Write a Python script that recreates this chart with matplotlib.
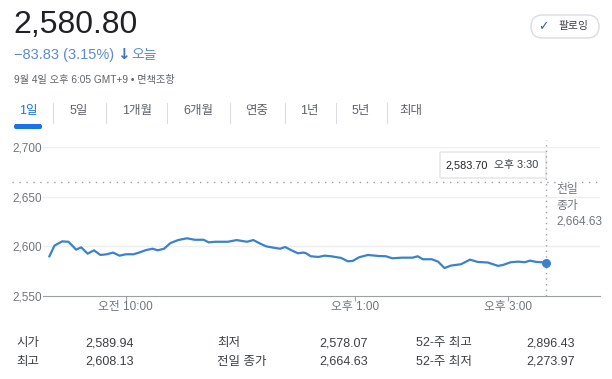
import matplotlib
matplotlib.use("Agg")
import matplotlib.pyplot as plt
from matplotlib.patches import FancyBboxPatch

plt.rcParams["font.family"] = ["Liberation Sans", "Noto Sans CJK KR", "DejaVu Sans"]
plt.rcParams["axes.unicode_minus"] = True

# ---- data ----
price = 2580.80
change = -83.83
change_pct = 3.15
prev_close = 2664.63
times = [0, 4, 10, 15, 21, 25, 30, 35, 40, 45, 50, 55, 60, 66, 71, 76, 81, 85, 90, 95,
         101, 108, 114, 121, 125, 130, 140, 147, 155, 160, 165, 170, 176, 181, 185, 190,
         195, 199, 201, 205, 211, 216, 221, 229, 234, 238, 243, 250, 258, 264, 269, 277,
         285, 289, 293, 300, 305, 310, 315, 323, 330, 336, 344, 352, 356, 362, 368, 373,
         377, 382, 390]  # minutes since 09:00
prices = [2589.94, 2600.7, 2605.0, 2604.6, 2596.7, 2599.0, 2592.6, 2596.0, 2591.3, 2592.0,
          2593.7, 2590.6, 2592.0, 2592.0, 2594.0, 2596.3, 2597.6, 2596.0, 2597.6, 2603.3,
          2606.3, 2608.1, 2606.6, 2606.6, 2604.0, 2604.6, 2604.6, 2606.3, 2604.6, 2606.3,
          2603.0, 2600.0, 2598.6, 2597.6, 2599.3, 2596.0, 2593.0, 2593.7, 2593.3, 2590.0,
          2589.3, 2590.6, 2590.0, 2588.3, 2585.0, 2585.3, 2589.0, 2591.3, 2590.3, 2590.0,
          2588.0, 2588.6, 2588.6, 2590.0, 2587.0, 2587.0, 2584.6, 2578.1, 2580.6, 2582.0,
          2586.6, 2584.3, 2583.7, 2580.3, 2581.3, 2584.0, 2584.6, 2584.0, 2585.6, 2584.3,
          2583.70]
xtick_pos = [60, 240, 360]
xtick_labels = ["오전 10:00", "오후 1:00", "오후 3:00"]
ytick_pos = [2550, 2600, 2650, 2700]
tabs = ["1일", "5일", "1개월", "6개월", "연중", "1년", "5년", "최대"]
stat_labels = [["시가", "최고"], ["최저", "전일 종가"], ["52-주 최고", "52-주 최저"]]
stat_values = [["2,589.94", "2,608.13"], ["2,578.07", "2,664.63"], ["2,896.43", "2,273.97"]]

LINE = "#3b82cc"
GREY = "#70757a"

fig = plt.figure(figsize=(6.12, 3.79), dpi=100)

# overlay in pixel coordinates (y from top)
bg = fig.add_axes([0, 0, 1, 1])
bg.set_xlim(0, 612); bg.set_ylim(379, 0); bg.axis("off")

bg.text(13, 33, f"{price:,.2f}", fontsize=23, color="#202124", va="baseline")
bg.text(14, 59, f"−{abs(change):,.2f} ({change_pct:.2f}%)", fontsize=10.5,
        color="#5b8ad0", va="baseline")
bg.text(117, 59, "↓", fontsize=11, color="#3a74c8", va="baseline", fontweight="bold",
        family="DejaVu Sans")
bg.text(131, 59, "오늘", fontsize=10, color="#5b8ad0", va="baseline")
bg.text(14, 83, "9월 4일 오후 6:05 GMT+9 • 면책조항", fontsize=7.3, color="#5f6368",
        va="baseline")

# follow button
bg.add_patch(FancyBboxPatch((531, 15), 68, 23, boxstyle="round,pad=0,rounding_size=11.5",
                            fc="white", ec="#dadce0", lw=1))
bg.text(543, 26.5, "✓", fontsize=9, color="#3d5f8f", ha="center", va="center",
        family="DejaVu Sans")
bg.text(558, 26.5, "팔로잉", fontsize=7.8, color="#3c4043", va="center")

# tabs
tab_x = [28, 79, 137, 198, 257, 309, 361, 411]
seps = [53, 106, 167, 230, 285, 336, 387]
for t, x in zip(tabs, tab_x):
    bg.text(x, 111, t, fontsize=9, color="#1a73e8" if t == "1일" else "#5f6368",
            ha="center", va="center")
for s in seps:
    bg.plot([s, s], [103, 123], color="#dadce0", lw=0.8)
bg.add_patch(FancyBboxPatch((14, 124), 28, 5, boxstyle="round,pad=0,rounding_size=2",
                            fc="#1a73e8", ec="none"))

# stats table
col_l = [16, 217, 416]
col_v = [85, 319, 526]
for c in range(3):
    for r, y in enumerate([343, 362]):
        bg.text(col_l[c], y, stat_labels[c][r], fontsize=9, color="#3c4043", va="center")
        bg.text(col_v[c], y, stat_values[c][r], fontsize=9, color="#3c4043", va="center")

# ---- chart ----
ax = fig.add_axes([43 / 612, 1 - 296 / 379, 557 / 612, 149 / 379])
ax.set_zorder(2); ax.patch.set_alpha(0)
ax.set_xlim(-5, 432)
ax.set_ylim(2550, 2700)
for y in ytick_pos[1:]:
    ax.axhline(y, color="#eeeeee", lw=1, zorder=0)
ax.axhline(prev_close, xmin=-0.056, xmax=1, color="#9aa0a6", lw=1,
           ls=(0, (1, 4)), clip_on=False)
ax.axvline(times[-1], ymin=0, ymax=1.05, color="#9aa0a6", lw=1,
           ls=(0, (1, 3)), clip_on=False)
ax.plot(times, prices, color=LINE, lw=1.6, zorder=3)
ax.scatter([times[-1]], [prices[-1]], s=30, color=LINE, zorder=4)

for sp in ["top", "right", "left"]:
    ax.spines[sp].set_visible(False)
ax.spines["bottom"].set_color("#9aa0a6")
ax.set_xticks(xtick_pos, xtick_labels)
ax.set_yticks(ytick_pos, [f"{v:,}" for v in ytick_pos])
ax.tick_params(axis="x", length=3.5, color="#9aa0a6", labelsize=8.5, labelcolor=GREY, pad=0)
ax.tick_params(axis="y", length=0, labelsize=8.5, labelcolor=GREY, pad=1)

# tooltip and previous close note
bg.add_patch(FancyBboxPatch((440, 152), 106, 26, boxstyle="round,pad=0,rounding_size=1",
                            fc="white", ec="#e3e3e3", lw=1, zorder=5))
bg.text(445, 165, f"{prices[-1]:,.2f}", fontsize=7.8, color="#202124", va="center", zorder=6)
bg.text(494, 165, "오후 3:30", fontsize=7.8, color="#3c4043", va="center", zorder=6)
bg.text(556, 190, "전일", fontsize=8.5, color=GREY, va="center")
bg.text(556, 206, "종가", fontsize=8.5, color=GREY, va="center")
bg.text(556, 222, f"{prev_close:,.2f}", fontsize=8.5, color=GREY, va="center")

fig.savefig("out.png", dpi=100)
